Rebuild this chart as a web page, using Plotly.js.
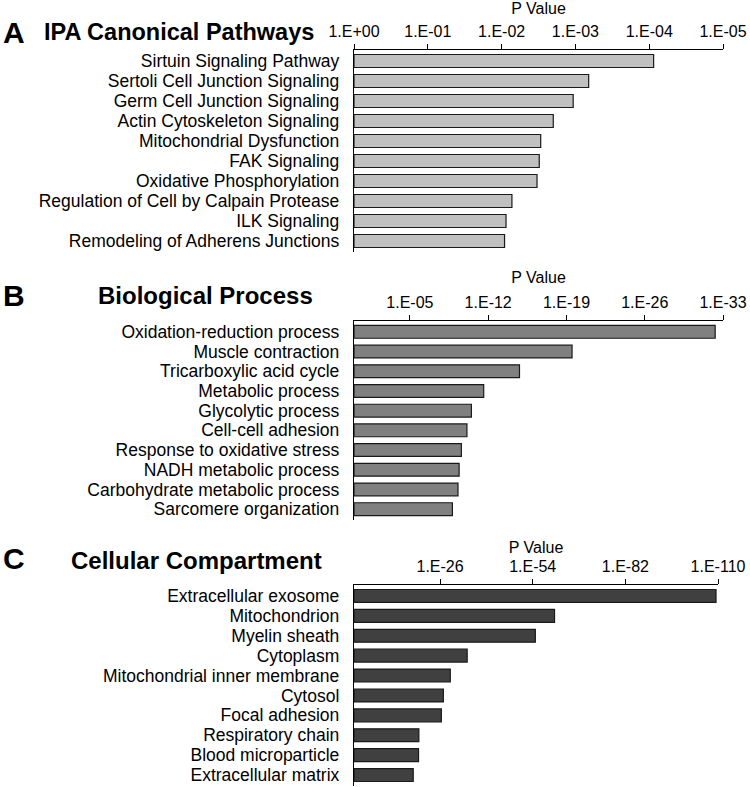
<!DOCTYPE html>
<html>
<head>
<meta charset="utf-8">
<script src="https://cdn.plot.ly/plotly-3.0.1.min.js"></script>
<style>html,body{margin:0;padding:0;background:#fff;}#chart{width:750px;height:787px;}</style>
</head>
<body>
<div id="chart"></div>
<script>
// ---- Data (values are -log10(P)) ----
const ipaCategories = ["Sirtuin Signaling Pathway","Sertoli Cell Junction Signaling","Germ Cell Junction Signaling","Actin Cytoskeleton Signaling","Mitochondrial Dysfunction","FAK Signaling","Oxidative Phosphorylation","Regulation of Cell by Calpain Protease","ILK Signaling","Remodeling of Adherens Junctions"];
const ipaValues = [4.06, 3.18, 2.97, 2.70, 2.53, 2.51, 2.48, 2.14, 2.06, 2.04];
const ipaTickVals = [0, 1, 2, 3, 4, 5];
const ipaTickText = ["1.E+00","1.E-01","1.E-02","1.E-03","1.E-04","1.E-05"];

const bpCategories = ["Oxidation-reduction process","Muscle contraction","Tricarboxylic acid cycle","Metabolic process","Glycolytic process","Cell-cell adhesion","Response to oxidative stress","NADH metabolic process","Carbohydrate metabolic process","Sarcomere organization"];
const bpValues = [32.3, 19.5, 14.8, 11.6, 10.5, 10.1, 9.6, 9.4, 9.3, 8.8];
const bpTickVals = [5, 12, 19, 26, 33];
const bpTickText = ["1.E-05","1.E-12","1.E-19","1.E-26","1.E-33"];

const ccCategories = ["Extracellular exosome","Mitochondrion","Myelin sheath","Cytoplasm","Mitochondrial inner membrane","Cytosol","Focal adhesion","Respiratory chain","Blood microparticle","Extracellular matrix"];
const ccValues = [109.4, 60.6, 54.8, 34.2, 29.1, 27.0, 26.4, 19.6, 19.5, 17.9];
const ccTickVals = [26, 54, 82, 110];
const ccTickText = ["1.E-26","1.E-54","1.E-82","1.E-110"];

// ---- Layout helpers ----
const W = 750, H = 787;
const FONT = "Liberation Sans, Arial, sans-serif";
const fy = px => 1 - px / H;
const fx = px => px / W;

function bar(cats, vals, color, xa, ya) {
  return {
    type: "bar", orientation: "h", x: vals, y: cats,
    xaxis: xa, yaxis: ya, width: 0.65,
    marker: { color: color, line: { color: "#1a1a1a", width: 1.2 } },
    hoverinfo: "x+y", showlegend: false
  };
}

function xAxis(domainR, yAnchor, range, tv, tt, standoff) {
  return {
    domain: [fx(354), fx(domainR)], anchor: yAnchor, side: "top",
    range: range, tickmode: "array", tickvals: tv, ticktext: tt,
    ticks: "outside", ticklen: 5, tickwidth: 1, tickcolor: "#000",
    showline: true, linecolor: "#000", linewidth: 1.2,
    showgrid: false, zeroline: false, fixedrange: true,
    tickfont: { family: FONT, size: 16, color: "#000" },
    title: { text: "P Value", standoff: standoff, font: { family: FONT, size: 16, color: "#000" } }
  };
}

function yAxis(top, bottom, xAnchor, cats) {
  return {
    domain: [fy(bottom), fy(top)], anchor: xAnchor, type: "category",
    categoryorder: "array", categoryarray: cats, range: [9.55, -0.55],
    tickmode: "array", tickvals: cats, ticktext: cats,
    showline: true, linecolor: "#000", linewidth: 1.2, ticks: "",
    showgrid: false, zeroline: false, fixedrange: true,
    ticklabelstandoff: 10,
    tickfont: { family: FONT, size: 17.5, color: "#000" }
  };
}

const data = [
  bar(ipaCategories, ipaValues, "#c0c0c0", "x", "y"),
  bar(bpCategories, bpValues, "#808080", "x2", "y2"),
  bar(ccCategories, ccValues, "#404040", "x3", "y3")
];

function ann(text, xpx, ypx, size, xanchor) {
  return {
    text: text, xref: "paper", yref: "paper", x: fx(xpx), y: fy(ypx),
    xanchor: xanchor, yanchor: "middle", showarrow: false,
    font: { family: FONT, size: size, color: "#000", weight: "bold" }
  };
}

const layout = {
  width: W, height: H,
  margin: { l: 0, r: 0, t: 0, b: 0 },
  paper_bgcolor: "#fff", plot_bgcolor: "#fff",
  bargap: 0.35,
  xaxis: xAxis(723, "y", [0, 5], ipaTickVals, ipaTickText, 4),
  yaxis: yAxis(50, 252, "x", ipaCategories),
  xaxis2: xAxis(723, "y2", [0, 33], bpTickVals, bpTickText, 6),
  yaxis2: yAxis(321, 520, "x2", bpCategories),
  xaxis3: xAxis(718, "y3", [0, 110], ccTickVals, ccTickText, 0),
  yaxis3: yAxis(585, 786, "x3", ccCategories),
  annotations: [
    ann("A", 1, 32, 30, "left"),
    ann("IPA Canonical Pathways", 42, 32, 23.5, "left"),
    ann("B", 1, 295, 30, "left"),
    ann("Biological Process", 96, 295, 24, "left"),
    ann("C", 1, 558, 30, "left"),
    ann("Cellular Compartment", 69, 560, 24, "left")
  ]
};

Plotly.newPlot("chart", data, layout, { displayModeBar: false, staticPlot: true });
</script>
</body>
</html>
